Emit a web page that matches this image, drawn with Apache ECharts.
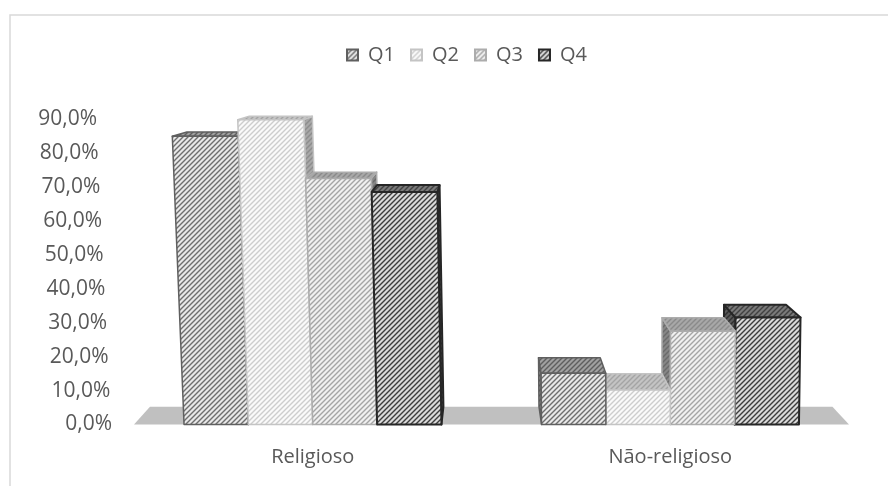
<!DOCTYPE html>
<html>
<head>
<meta charset="utf-8">
<script src="https://cdn.jsdelivr.net/npm/echarts@6/dist/echarts.min.js"></script>
<style>
html, body { margin: 0; padding: 0; background: #fff; }
#chart { width: 888px; height: 486px; }
</style>
</head>
<body>
<div id="chart"></div>
<script>
// dados
var categories = ['Religioso', 'Não-religioso'];
var seriesNames = ['Q1', 'Q2', 'Q3', 'Q4'];
var q1 = [84.9, 15.1];
var q2 = [89.8, 10.2];
var q3 = [72.5, 27.5];
var q4 = [68.5, 31.5];
var yMin = 0, yMax = 90, yStep = 10;

var TEXT = '#595959';
var FONT = 'Open Sans';
var DEPTH = 0.047;   // quanto a face de trás encolhe para o ponto de fuga
var SHEAR = 9e-5;    // inclinação das arestas verticais (perspectiva)

// padrão hachurado em diagonal
function hatch(bg, line, w) {
	var n = 5;
	var c = document.createElement('canvas');
	c.width = n; c.height = n;
	var g = c.getContext('2d');
	g.fillStyle = bg;
	g.fillRect(0, 0, n, n);
	g.strokeStyle = line;
	g.lineWidth = w || 1.4;
	g.beginPath();
	g.moveTo(-1, n + 1); g.lineTo(n + 1, -1);
	g.moveTo(-1, 1); g.lineTo(1, -1);
	g.moveTo(n - 1, n + 1); g.lineTo(n + 1, n - 1);
	g.stroke();
	return { image: c, repeat: 'repeat' };
}

var looks = [
	{ front: hatch('#e8e8e8', '#6e6e6e'), top: hatch('#a0a0a0', '#5e5e5e'), side: hatch('#8a8a8a', '#505050'), border: '#5f5f5f', bw: 1.5 },
	{ front: hatch('#fafafa', '#cdcdcd'), top: hatch('#c4c4c4', '#a4a4a4'), side: hatch('#a8a8a8', '#8c8c8c'), border: '#c4c4c4', bw: 1.5 },
	{ front: hatch('#f0f0f0', '#a4a4a4'), top: hatch('#a8a8a8', '#8a8a8a'), side: hatch('#868686', '#6a6a6a'), border: '#acacac', bw: 1.5 },
	{ front: hatch('#dadada', '#3c3c3c'), top: hatch('#7a7a7a', '#404040'), side: hatch('#5a5a5a', '#303030'), border: '#262626', bw: 2 }
];

function fmtPct(v) {
	return v.toFixed(1).replace('.', ',') + '%';
}

function perspective(cs, y0) {
	var vx = cs.x + cs.width * 0.498;
	var vy = cs.y - cs.height * 0.24;
	var scx = cs.x + cs.width * 0.703;
	return {
		vx: vx,
		back: function(p) { return [p[0] + (vx - p[0]) * DEPTH, p[1] + (vy - p[1]) * DEPTH]; },
		view: function(p) { return [p[0] + (p[0] - scx) * (y0 - p[1]) * SHEAR, p[1]]; }
	};
}

function renderBar(params, api) {
	var s = params.seriesIndex;
	var look = looks[s];
	var cat = api.value(0);
	var base = api.coord([cat, 0]);
	var top = api.coord([cat, api.value(1)]);
	var band = api.size([1, 0])[0];
	var bw = band * 0.72 / 4;
	var xl = base[0] + (s - 2) * bw;
	var xr = xl + bw;
	var y0 = base[1], y1 = top[1];
	var P = perspective(params.coordSys, y0);
	var bl = [xl, y0], tl = [xl, y1], tr = [xr, y1], br = [xr, y0];
	// barras mais afastadas do ponto de fuga são desenhadas primeiro
	var order = 1000 - Math.round(Math.abs((xl + xr) / 2 - P.vx));
	function poly(pts, fill, part) {
		return {
			type: 'polygon',
			z2: order * 4 + part,
			shape: { points: pts.map(P.view) },
			style: { fill: fill, stroke: look.border, lineWidth: look.bw, lineJoin: 'round' }
		};
	}
	var children = [];
	if (P.vx > xr) {
		children.push(poly([br, tr, P.back(tr), P.back(br)], look.side, 0));
	}
	if (P.vx < xl) {
		children.push(poly([bl, tl, P.back(tl), P.back(bl)], look.side, 0));
	}
	children.push(poly([tl, tr, P.back(tr), P.back(tl)], look.top, 1));
	children.push(poly([bl, tl, tr, br], look.front, 2));
	return { type: 'group', children: children };
}

function renderFloor(params, api) {
	var cs = params.coordSys;
	var y0 = api.coord([0, yMin])[1];
	var P = perspective(cs, y0);
	var fl = [cs.x, y0], fr = [cs.x + cs.width, y0];
	return {
		type: 'polygon',
		z2: -10,
		shape: { points: [fl, fr, P.back(fr), P.back(fl)].map(P.view) },
		style: { fill: '#c0c0c0' }
	};
}

var rich = {};
for (var i = 0; i <= (yMax - yMin) / yStep; i++) {
	rich['t' + i] = { fontSize: 21, fontFamily: FONT, color: TEXT, padding: [0, i * 15 / 9, 0, 0] };
}

var values = [q1, q2, q3, q4];
var series = values.map(function(vals, k) {
	return {
		name: seriesNames[k],
		type: 'custom',
		renderItem: renderBar,
		itemStyle: { color: looks[k].front, borderColor: looks[k].border, borderWidth: 1 },
		encode: { x: 0, y: 1 },
		data: vals.map(function(v, c) { return [c, v]; })
	};
});
series.push({
	name: 'floor',
	type: 'custom',
	silent: true,
	renderItem: renderFloor,
	encode: { x: 0, y: 1 },
	data: [[0, yMin]]
});

var myChart = echarts.init(document.getElementById('chart'), null, { renderer: 'canvas' });
var option = {
	animation: false,
	backgroundColor: '#fff',
	graphic: [{
		type: 'rect',
		silent: true,
		shape: { x: 10, y: 15, width: 1000, height: 1000 },
		style: { fill: 'none', stroke: '#d9d9d9', lineWidth: 1.5 }
	}],
	legend: {
		data: seriesNames,
		left: 341,
		top: 40,
		itemWidth: 11,
		itemHeight: 11,
		itemGap: 15,
		icon: 'rect',
		textStyle: { color: TEXT, fontSize: 20, fontFamily: FONT, padding: [0, 0, 0, 5] }
	},
	grid: { left: 134, right: 39, top: 119, bottom: 61.5 },
	xAxis: {
		type: 'category',
		data: categories,
		axisLine: { show: false },
		axisTick: { show: false },
		splitLine: { show: false },
		axisLabel: { margin: 23, fontSize: 20, fontFamily: FONT, color: TEXT }
	},
	yAxis: {
		type: 'value',
		min: yMin,
		max: yMax,
		interval: yStep,
		axisLine: { show: false },
		axisTick: { show: false },
		splitLine: { show: false },
		axisLabel: {
			margin: 22,
			formatter: function(v) {
				return '{t' + Math.round((v - yMin) / yStep) + '|' + fmtPct(v) + '}';
			},
			rich: rich
		}
	},
	series: series
};
myChart.setOption(option);
</script>
</body>
</html>
